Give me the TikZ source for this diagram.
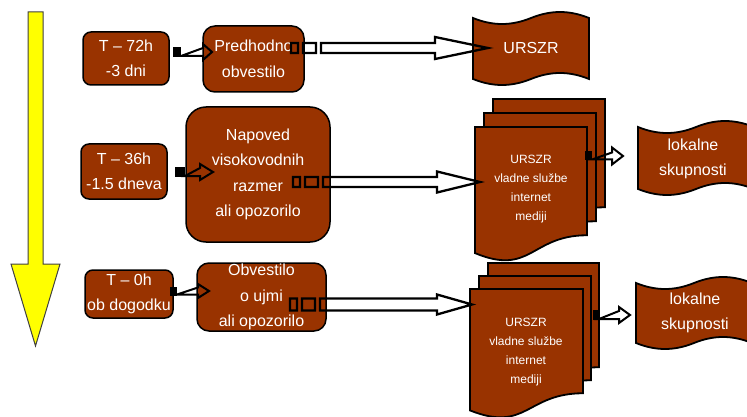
\documentclass[tikz,border=0pt]{standalone}
\usepackage{fontspec}
\setmainfont{Liberation Sans}
\usetikzlibrary{calc}
\definecolor{rust}{RGB}{153,51,0}
\definecolor{yel}{RGB}{255,255,0}
\tikzset{
  tbox/.style={draw=black, line width=1.5pt, fill=rust, text=white, align=center, inner sep=0pt, font=\fontsize{16}{25.5}\selectfont},
  shapest/.style={draw=black, line width=1.8pt, fill=rust},
  btext/.style={text=white, align=center, inner sep=0pt, font=\fontsize{16}{25}\selectfont},
  stext/.style={text=white, align=center, inner sep=0pt, font=\fontsize{12}{19}\selectfont},
  bigarrow/.style={draw=black, line width=2.3pt, line join=miter},
  smallarr/.style={draw=black, line width=2pt, line join=miter},
  yellowarr/.style={draw=black!75, line width=1pt, fill=yel},
}
% document shape: x0 y0 w h
\newcommand\docshape[4]{\draw[shapest] (#1,#2) -- ({#1+#3},#2) -- ({#1+#3},{#2+0.802*#4}) .. controls ({#1+0.5*#3},{#2+0.802*#4}) and ({#1+0.5*#3},{#2+1.107*#4}) .. (#1,{#2+0.934*#4}) -- cycle;}
% wave banner: x0 x1 yTop yBottom c
\newcommand\wavebanner[5]{\draw[shapest] (#1,#3) .. controls ({#1+0.17*(#2-#1)},{#3+#5}) and ({#1+0.33*(#2-#1)},{#3+#5}) .. ({0.5*(#1+#2)},#3) .. controls ({#1+0.67*(#2-#1)},{#3-#5}) and ({#1+0.83*(#2-#1)},{#3-#5}) .. (#2,#3) -- (#2,#4) .. controls ({#1+0.83*(#2-#1)},{#4-#5}) and ({#1+0.67*(#2-#1)},{#4-#5}) .. ({0.5*(#1+#2)},#4) .. controls ({#1+0.33*(#2-#1)},{#4+#5}) and ({#1+0.17*(#2-#1)},{#4+#5}) .. (#1,#4) -- cycle;}
% striped arrow: from, to, half shaft, half head, head length
\newcommand\stripedarrow[5]{\path[bigarrow] let \p1=(#1), \p2=(#2) in
  (\x1,\y1-#3) rectangle (\x1+7pt,\y1+#3)
  (\x1+12pt,\y1-#3) rectangle (\x1+25pt,\y1+#3)
  (\x1+30pt,\y1-#3) -- (\x2-#5,\y1-#3) -- (\x2-#5,\y1-#4) -- (\x2,\y1) -- (\x2-#5,\y1+#4) -- (\x2-#5,\y1+#3) -- (\x1+30pt,\y1+#3) -- cycle;}
% small arrow: from, to, black length, half shaft, half head, head length
\newcommand\smallarrow[6]{\fill let \p1=(#1) in (\x1,\y1-#4-1pt) rectangle (\x1+#3,\y1+#4+1pt);
  \path[smallarr] let \p1=(#1), \p2=(#2) in (\x1+#3,\y1-#4) -- (\x2-#6,\y1-#4) -- (\x2-#6,\y1-#5) -- (\x2,\y1) -- (\x2-#6,\y1+#5) -- (\x2-#6,\y1+#4) -- cycle;}
\begin{document}
\begin{tikzpicture}[x=1pt,y=-1pt]
\useasboundingbox (0,0) rectangle (747,417);
\begin{scope}
\clip (0,0) rectangle (747,417);
% time arrow
\draw[yellowarr] (28,12) -- (43,12) -- (43,264) -- (60,264) -- (35.5,346) -- (11,264) -- (28,264) -- cycle;
% boxes
\node[tbox, minimum width=86pt, minimum height=53pt, rounded corners=8pt] (t72) at (126,58.5) {T – 72h\\-3 dni};
\node[tbox, minimum width=101pt, minimum height=66pt, rounded corners=12pt] (pred) at (253.5,59) {Predhodno\\obvestilo};
\node[tbox, minimum width=86pt, minimum height=55pt, rounded corners=8pt] (t36) at (124,171.5) {T – 36h\\-1.5 dneva};
\node[tbox, minimum width=144pt, minimum height=135pt, rounded corners=20pt] (nap) at (258,174.5) {Napoved\\visokovodnih\\razmer\\ali opozorilo};
\node[tbox, minimum width=88pt, minimum height=48pt, rounded corners=8pt] (t0) at (129,294) {T – 0h\\ob dogodku};
\node[tbox, minimum width=129pt, minimum height=68pt, rounded corners=12pt] (obv) at (261.5,297) {Obvestilo\\o ujmi\\ali opozorilo};
% banners
\wavebanner{473}{589}{18}{79}{8}
\node[btext] (ursz) at (531,48) {URSZR};
\wavebanner{638}{754}{127}{189}{8}
\node[btext] (lok2) at (693,159) {lokalne\\skupnosti};
\wavebanner{636}{752}{283}{343}{8}
\node[btext] (lok3) at (695,313) {lokalne\\skupnosti};
% document stacks
\docshape{493}{99}{112}{135}
\docshape{484}{113}{112}{135}
\docshape{475}{127}{112}{135}
\node[stext] (doc2) at (531,189) {URSZR\\vladne službe\\internet\\mediji};
\docshape{488}{263}{111}{130}
\docshape{479}{276}{112}{130}
\docshape{470}{289}{113}{130}
\node[stext] (doc3) at (526,352) {URSZR\\vladne službe\\internet\\mediji};
% connector end points
\coordinate (a1s) at (291,48);   \coordinate (a1e) at (488,48);
\coordinate (a2s) at (293,182);  \coordinate (a2e) at (480,182);
\coordinate (a3s) at (290,304.5);\coordinate (a3e) at (472,304.5);
\coordinate (s1s) at (173,52);   \coordinate (s1e) at (212,52);
\coordinate (s2s) at (175,172);  \coordinate (s2e) at (213,172);
\coordinate (s3s) at (170,291);  \coordinate (s3e) at (209,291);
\coordinate (s4s) at (585,156);  \coordinate (s4e) at (623,156);
\coordinate (s5s) at (593,315);  \coordinate (s5e) at (630,315);
% connectors
\stripedarrow{a1s}{a1e}{5pt}{11pt}{53pt}
\stripedarrow{a2s}{a2e}{5pt}{10.5pt}{43pt}
\stripedarrow{a3s}{a3e}{6pt}{10pt}{35pt}
\smallarrow{s1s}{s1e}{8pt}{4pt}{8pt}{9pt}
\smallarrow{s2s}{s2e}{10pt}{4pt}{8pt}{13pt}
\smallarrow{s3s}{s3e}{7pt}{3.5pt}{7pt}{11pt}
\smallarrow{s4s}{s4e}{7pt}{3.5pt}{8.5pt}{11pt}
\smallarrow{s5s}{s5e}{6pt}{4pt}{8pt}{11pt}
\end{scope}
\end{tikzpicture}
\end{document}
